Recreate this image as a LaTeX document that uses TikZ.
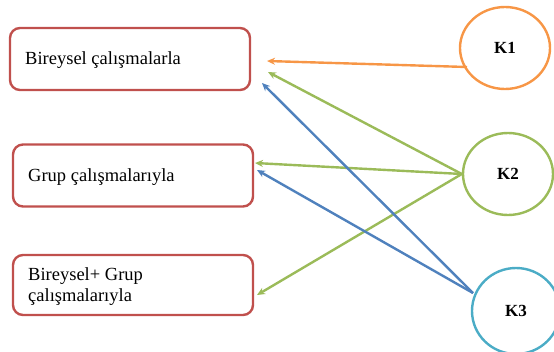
\documentclass[tikz,border=0pt]{standalone}
\usepackage{fontspec}
\setmainfont{Liberation Serif}
\usetikzlibrary{shapes.geometric,arrows.meta}
\definecolor{boxred}{HTML}{C0504D}
\definecolor{korange}{HTML}{F79646}
\definecolor{kgreen}{HTML}{9BBB59}
\definecolor{kblue}{HTML}{4F81BD}
\definecolor{kcyan}{HTML}{4BACC6}
\begin{document}
\begin{tikzpicture}[x=1pt,y=-1pt,
  box/.style={draw=boxred,line width=2.4pt,rounded corners=10pt,minimum width=240pt,minimum height=62pt,inner sep=0pt},
  boxtext/.style={anchor=west,font=\fontsize{18.5}{21}\selectfont,align=left,inner sep=0pt},
  kcirc/.style={ellipse,line width=2.4pt,minimum width=90pt,minimum height=82pt,inner sep=0pt,font=\bfseries\fontsize{17}{20}\selectfont},
  conn/.style={line width=2.4pt,-{Stealth[length=8pt,width=7pt]}}]
\useasboundingbox (0,0) rectangle (554,351);
\node[box] (b1) at (130,59) {};
\node[boxtext] (t1) at (25,60) {Bireysel çalışmalarla};
\node[box] (b2) at (133,175.5) {};
\node[boxtext] (t2) at (28,177) {Grup çalışmalarıyla};
\node[box,minimum height=60pt] (b3) at (133,285) {};
\node[boxtext] (t3) at (28,287) {Bireysel+ Grup\\çalışmalarıyla};
\node[kcirc,draw=korange] (k1) at (505,48) {K1};
\node[kcirc,draw=kgreen] (k2) at (508,174) {K2};
\node[kcirc,draw=kcyan,minimum width=88pt,minimum height=86pt] (k3) at (516,311) {K3};
\coordinate (e1) at (267,61);
\coordinate (e2) at (268,72);
\coordinate (e3) at (262,83);
\coordinate (e4) at (255,163);
\coordinate (e5) at (257,170);
\coordinate (e6) at (257,295);
\coordinate (s1) at (467,67);
\coordinate (s3) at (473,293);
\draw[conn,korange] (s1) -- (e1);
\draw[conn,kgreen] (k2.west) -- (e2);
\draw[conn,kgreen] (k2.west) -- (e4);
\draw[conn,kgreen] (k2.west) -- (e6);
\draw[conn,kblue] (s3) -- (e3);
\draw[conn,kblue] (s3) -- (e5);
\end{tikzpicture}
\end{document}
